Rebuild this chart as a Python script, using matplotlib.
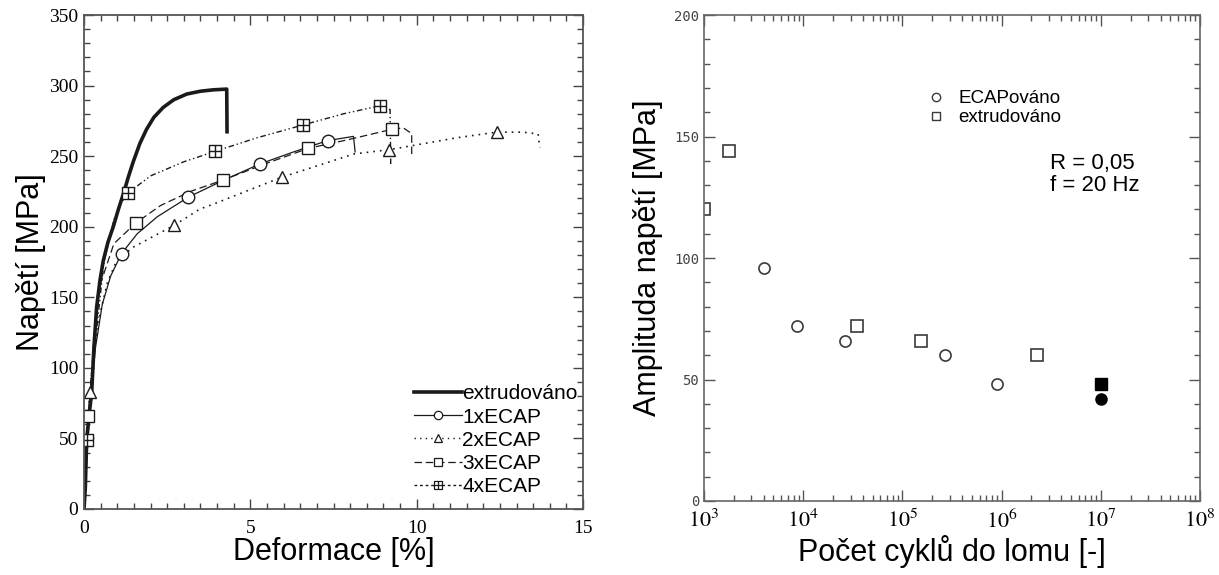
import numpy as np
import matplotlib
matplotlib.use("Agg")
from matplotlib import pyplot as plt
from matplotlib.path import Path
from matplotlib.ticker import MultipleLocator, LogLocator, NullFormatter

plt.rcParams['font.family'] = ['Liberation Sans', 'DejaVu Sans']
plt.rcParams['mathtext.fontset'] = 'stix'

# ---- tahová zkouška (levý graf) ----
ext_x = [0, 0.04, 0.08, 0.15, 0.23, 0.30, 0.38, 0.48, 0.58, 0.72, 0.88, 1.03, 1.18, 1.33, 1.48,
         1.68, 1.88, 2.10, 2.38, 2.70, 3.09, 3.50, 3.89, 4.29, 4.30]
ext_y = [0, 15, 49, 66, 82, 115, 143, 162, 176, 189, 200, 212, 223, 235, 246,
         259, 269, 277.5, 284.5, 290, 294, 296, 297, 297.5, 266]

e1_x = [0, 0.10, 0.20, 0.35, 0.55, 0.80, 1.13, 1.60, 2.20, 3.14, 4.20, 5.29, 6.30, 7.32, 8.10, 8.15]
e1_y = [0, 40, 80, 115, 145, 165, 181, 195, 207, 221, 233, 244.5, 253, 261, 264, 253]
e1_mx = [1.13, 3.14, 5.29, 7.32]
e1_my = [181, 221, 244.5, 261]

e2_x = [0, 0.17, 0.40, 0.70, 0.98, 1.48, 2.71, 3.49, 3.89, 5.29, 5.94, 7.49, 8.10, 9.18, 10.0, 11.2, 12.4, 13.2, 13.65, 13.70]
e2_y = [0, 83, 130, 160, 176, 185.5, 201, 212.6, 216, 229, 235, 246.8, 251.5, 254.6, 258, 263, 267, 267, 265.7, 256]
e2_mx = [0.17, 2.71, 5.94, 9.18, 12.4]
e2_my = [83, 201, 235, 254.6, 267]

e3_x = [0, 0.13, 0.30, 0.50, 0.90, 1.55, 2.30, 3.20, 4.17, 5.50, 6.74, 8.00, 9.25, 9.60, 9.85, 9.85]
e3_y = [0, 66, 120, 160, 188, 202.5, 215, 225, 233, 245, 255.5, 262, 269, 270, 266, 250]
e3_mx = [0.13, 1.55, 4.17, 6.74, 9.25]
e3_my = [66, 202.5, 233, 255.5, 269]

e4_x = [0, 0.10, 0.30, 0.60, 0.90, 1.10, 1.31, 2.00, 3.00, 3.94, 5.20, 6.57, 7.80, 8.90, 9.20, 9.22]
e4_y = [0, 49, 110, 175, 205, 216, 223.7, 236, 246, 253.4, 263, 272, 280, 285.7, 283, 244]
e4_mx = [0.10, 1.31, 3.94, 6.57, 8.90]
e4_my = [49, 223.7, 253.4, 272, 285.7]

# ---- únava (pravý graf) ----
ecap_n = [4.0e3, 8.7e3, 2.65e4, 2.7e5, 9.0e5]
ecap_s = [96, 72, 66, 60, 48]
extr_n = [1.0e3, 1.8e3, 3.5e4, 1.55e5, 2.3e6]
extr_s = [120, 144, 72, 66, 60]
ecap_runout_n = [1.0e7]
ecap_runout_s = [42]
extr_runout_n = [1.0e7]
extr_runout_s = [48]

# čtverec s křížkem
sq_plus = Path([(-1, -1), (1, -1), (1, 1), (-1, 1), (-1, -1),
                (0, -1), (0, 1), (-1, 0), (1, 0)],
               [Path.MOVETO, Path.LINETO, Path.LINETO, Path.LINETO, Path.CLOSEPOLY,
                Path.MOVETO, Path.LINETO, Path.MOVETO, Path.LINETO])

fig = plt.figure(figsize=(12.19, 5.75), dpi=100)
ax1 = fig.add_axes([0.0689, 0.1148, 0.4094, 0.8591])
ax2 = fig.add_axes([0.5775, 0.1287, 0.4069, 0.8452])

k = '#1a1a1a'
ax1.plot(ext_x, ext_y, color=k, lw=2.6, solid_capstyle='butt', solid_joinstyle='round')
ax1.plot(e1_x, e1_y, color=k, lw=0.9)
ax1.plot(e2_x, e2_y, color=k, lw=1.2, ls=(0, (1, 3)))
ax1.plot(e3_x, e3_y, color=k, lw=0.9, ls=(0, (6, 3)))
ax1.plot(e4_x, e4_y, color=k, lw=1.0, ls=(0, (4, 2, 1, 2, 1, 2)))

mk = dict(color=k, mfc='white', mec=k, mew=1.0, ms=9, ls='none')
ax1.plot(e1_mx, e1_my, marker='o', **mk)
ax1.plot(e2_mx, e2_my, marker='^', **mk)
ax1.plot(e3_mx, e3_my, marker='s', **mk)
ax1.plot(e4_mx, e4_my, marker=sq_plus, **mk)

# legenda
lk = dict(color=k, mfc='white', mec=k, mew=0.9, ms=6)
h = [plt.Line2D([], [], color=k, lw=2.6),
     plt.Line2D([], [], lw=0.9, marker='o', **lk),
     plt.Line2D([], [], lw=1.0, ls=(0, (1, 3)), marker='^', **lk),
     plt.Line2D([], [], lw=0.9, ls=(0, (6, 3)), marker='s', **lk),
     plt.Line2D([], [], lw=1.0, ls=(0, (2, 2)), marker=sq_plus, **lk)]
ax1.legend(h, ['extrudováno', '1xECAP', '2xECAP', '3xECAP', '4xECAP'],
           loc='lower right', bbox_to_anchor=(1.01, 0.005), frameon=False,
           fontsize=15, handlelength=2.3, handletextpad=0.0, labelspacing=0.2,
           borderpad=0.0, numpoints=1)

ax1.set_xlim(0, 15)
ax1.set_ylim(0, 350)
ax1.xaxis.set_major_locator(MultipleLocator(5))
ax1.xaxis.set_minor_locator(MultipleLocator(0.5))
ax1.yaxis.set_major_locator(MultipleLocator(50))
ax1.yaxis.set_minor_locator(MultipleLocator(10))
ax1.tick_params(which='both', direction='in', top=True, right=True, color='#444')
ax1.tick_params(which='major', length=7, width=1.0)
ax1.tick_params(which='minor', length=4, width=1.0)
for lb in ax1.get_xticklabels() + ax1.get_yticklabels():
    lb.set_family('Liberation Serif')
    lb.set_fontsize(14)
ax1.tick_params(axis='x', pad=8)
ax1.tick_params(axis='y', pad=4)
for s in ax1.spines.values():
    s.set_color('#555')
    s.set_linewidth(1.3)
ax1.set_xlabel('Deformace [%]', fontsize=22, labelpad=0)
ax1.set_ylabel('Napětí [MPa]', fontsize=22, labelpad=2)

# pravý graf
g = '#3a3a3a'
ax2.plot(ecap_n, ecap_s, ls='none', marker='o', ms=8, mfc='white', mec=g, mew=1.2)
ax2.plot(extr_n, extr_s, ls='none', marker='s', ms=8, mfc='white', mec=g, mew=1.2)
ax2.plot(ecap_runout_n, ecap_runout_s, ls='none', marker='o', ms=8, color='black')
ax2.plot(extr_runout_n, extr_runout_s, ls='none', marker='s', ms=8, color='black')

h2 = [plt.Line2D([], [], ls='none', marker='o', ms=6, mfc='white', mec=g, mew=1.0),
      plt.Line2D([], [], ls='none', marker='s', ms=6, mfc='white', mec=g, mew=1.0)]
ax2.legend(h2, ['ECAPováno', 'extrudováno'], loc='upper left',
           bbox_to_anchor=(0.43, 0.865), frameon=False, fontsize=13.5,
           handlelength=1.0, handletextpad=0.7, labelspacing=0.12, borderpad=0.0)
ax2.text(0.697, 0.672, 'R = 0,05\nf = 20 Hz', transform=ax2.transAxes,
         fontsize=16, ha='left', va='center', linespacing=1.05)

ax2.set_xscale('log')
ax2.set_xlim(1e3, 1e8)
ax2.set_ylim(0, 200)
ax2.set_xticks([1e3, 1e4, 1e5, 1e6, 1e7, 1e8])
ax2.set_xticklabels(['$10^{%d}$' % p for p in range(3, 9)])
ax2.xaxis.set_minor_locator(LogLocator(base=10, subs=np.arange(2, 10)))
ax2.xaxis.set_minor_formatter(NullFormatter())
ax2.yaxis.set_major_locator(MultipleLocator(50))
ax2.yaxis.set_minor_locator(MultipleLocator(10))
ax2.tick_params(which='both', direction='in', top=True, right=True, color='#555')
ax2.tick_params(which='major', length=8, width=1.0)
ax2.tick_params(which='minor', length=4, width=1.0)
ax2.tick_params(axis='x', labelsize=16, pad=6)
for lb in ax2.get_yticklabels():
    lb.set_family('DejaVu Sans Mono')
    lb.set_fontsize(10)
    lb.set_color('#444')
for s in ax2.spines.values():
    s.set_color('#666')
    s.set_linewidth(1.2)
ax2.set_xlabel('Počet cyklů do lomu [-]', fontsize=22, labelpad=2)
ax2.set_ylabel('Amplituda napětí [MPa]', fontsize=22, labelpad=8)

plt.savefig('out.png', dpi=100)
